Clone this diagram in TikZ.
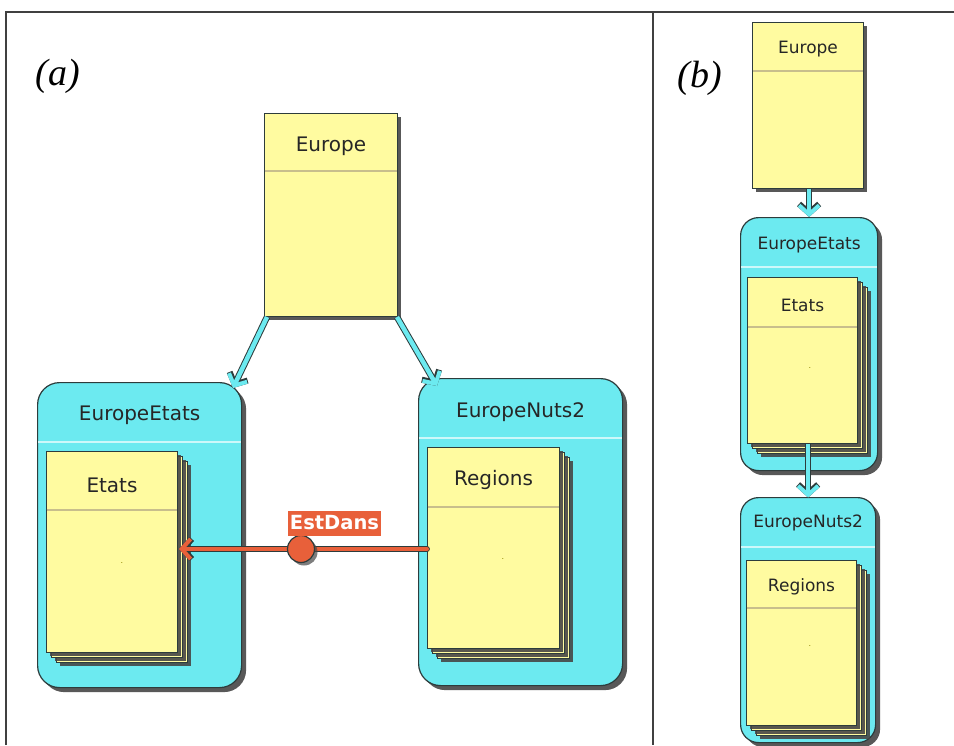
\documentclass[tikz,border=0pt]{standalone}
\usepackage{fontspec}
\setmainfont{DejaVu Sans}
\newfontfamily\serifit{Liberation Serif}
\usetikzlibrary{shadows,arrows.meta}
\definecolor{ylw}{RGB}{255,251,160}
\definecolor{cyn}{RGB}{108,234,240}
\definecolor{org}{RGB}{232,96,58}
\definecolor{outl}{RGB}{45,60,60}
\definecolor{ydivc}{RGB}{200,190,140}
\definecolor{cdivc}{RGB}{205,248,250}
\definecolor{shd}{RGB}{70,70,70}
\tikzset{
  frame/.style={draw=black!75, line width=1.3pt},
  ybox/.style={rectangle, draw=outl, fill=ylw, line width=1pt, anchor=north west, inner sep=0pt,
    drop shadow={shadow xshift=3.5pt, shadow yshift=-3.5pt, fill=shd, opacity=0.9}},
  cbox/.style={rectangle, rounded corners=22pt, draw=outl, fill=cyn, line width=1.2pt, anchor=north west, inner sep=0pt,
    drop shadow={shadow xshift=4.5pt, shadow yshift=-4.5pt, fill=shd, opacity=0.9}},
  ydiv/.style={draw=ydivc, line width=1.2pt},
  cdiv/.style={draw=cdivc, line width=1.8pt},
  ttlA/.style={font=\fontsize{20}{24}\selectfont, text=black!85},
  ttlB/.style={font=\fontsize{17}{20}\selectfont, text=black!85},
  dotlbl/.style={font=\fontsize{8}{9}\selectfont, text=olive, inner sep=0pt},
  panel/.style={font=\serifit\itshape\fontsize{38}{42}\selectfont},
  inh/.style={draw=cyn, line width=4.5pt, -{Straight Barb[length=9pt,width=20pt,line width=4pt]},
    preaction={draw=outl, line width=6.5pt, -{Straight Barb[length=9pt,width=20pt,line width=6pt]}}},
  rel/.style={draw=org, line width=4pt, line cap=round, -{Straight Barb[length=9pt,width=20pt,line width=4pt]},
    preaction={draw=outl, line width=5.8pt, line cap=round, -{Straight Barb[length=9pt,width=20pt,line width=5.8pt]}}},
}
% stack of three yellow class boxes: name, x, y, w, h
\newcommand\ystackbox[5]{%
  \node[ybox, minimum width=#4pt, minimum height=#5pt] at (#2+10,#3+10) {};
  \node[ybox, minimum width=#4pt, minimum height=#5pt] at (#2+5,#3+5) {};
  \node[ybox, minimum width=#4pt, minimum height=#5pt] (#1) at (#2,#3) {};
}
\begin{document}
\begin{tikzpicture}[x=1pt,y=-1pt]
\useasboundingbox (0,0) rectangle (954,745);
\fill[white] (0,0) rectangle (954,745);
% frame
\draw[frame] (6,745) -- (6,12) -- (954,12);
\draw[frame] (653,12) -- (653,745);
\node[panel] (pa) at (58,76) {(a)};
\node[panel] (pb) at (700,78) {(b)};

% ===== (a) =====
\node[ybox, minimum width=133pt, minimum height=203pt] (europeA) at (264,113) {};
\draw[ydiv] ([yshift=-58pt,xshift=0.6pt]europeA.north west) -- ([yshift=-58pt,xshift=-0.6pt]europeA.north east);
\node[ttlA] (europeAt) at ([yshift=-33pt]europeA.north) {Europe};

\node[cbox, minimum width=204pt, minimum height=305pt] (eetatsA) at (37,382) {};
\draw[cdiv] ([yshift=-60pt,xshift=0.8pt]eetatsA.north west) -- ([yshift=-60pt,xshift=-0.8pt]eetatsA.north east);
\node[ttlA] (eetatsAt) at ([yshift=-33pt]eetatsA.north) {EuropeEtats};
\ystackbox{etatsA}{46}{451}{131}{201}
\draw[ydiv] ([yshift=-59pt,xshift=0.6pt]etatsA.north west) -- ([yshift=-59pt,xshift=-0.6pt]etatsA.north east);
\node[ttlA] (etatsAt) at ([yshift=-34pt]etatsA.north) {Etats};
\node[dotlbl, anchor=base] (etatsAd) at (122,563) {.};

\node[cbox, minimum width=204pt, minimum height=307pt] (enutsA) at (418,378) {};
\draw[cdiv] ([yshift=-60pt,xshift=0.8pt]enutsA.north west) -- ([yshift=-60pt,xshift=-0.8pt]enutsA.north east);
\node[ttlA] (enutsAt) at ([yshift=-34pt]enutsA.north) {EuropeNuts2};
\ystackbox{regionsA}{427}{447}{132}{201}
\draw[ydiv] ([yshift=-60pt,xshift=0.6pt]regionsA.north west) -- ([yshift=-60pt,xshift=-0.6pt]regionsA.north east);
\node[ttlA] (regionsAt) at ([yshift=-33pt]regionsA.north) {Regions};
\node[dotlbl, anchor=base] (regionsAd) at (503,559) {.};

% inheritance arrows (a)
\coordinate (tipL) at (233,388);
\coordinate (tipR) at (437,386);
\draw[inh] ([xshift=3pt]europeA.south west) -- (tipL);
\draw[inh] ([xshift=-1pt]europeA.south east) -- (tipR);

% EstDans relation
\coordinate (relc) at (301,549);
\draw[rel] (regionsA.west |- relc) -- ([xshift=1pt]etatsA.east |- relc);
\node[circle, fill=org, draw=outl, line width=1.2pt, minimum size=27pt, inner sep=0pt,
  drop shadow={shadow xshift=3pt, shadow yshift=-3pt, fill=shd, opacity=0.7}] (estc) at (relc) {};
\node[fill=org, text=white, font=\bfseries\fontsize{19.5}{22}\selectfont, inner sep=1.5pt,
  minimum height=25pt] (estl) at (334.5,523) {EstDans};

% ===== (b) =====
\node[ybox, minimum width=111pt, minimum height=166pt] (europeB) at (752,22) {};
\draw[ydiv] ([yshift=-49pt,xshift=0.6pt]europeB.north west) -- ([yshift=-49pt,xshift=-0.6pt]europeB.north east);
\node[ttlB] (europeBt) at ([yshift=-27pt]europeB.north) {Europe};

\node[cbox, rounded corners=18pt, minimum width=137pt, minimum height=253pt] (eetatsB) at (740,217) {};
\draw[cdiv] ([yshift=-50pt,xshift=0.8pt]eetatsB.north west) -- ([yshift=-50pt,xshift=-0.8pt]eetatsB.north east);
\node[ttlB] (eetatsBt) at ([yshift=-28pt]eetatsB.north) {EuropeEtats};
\ystackbox{etatsB}{747}{277}{110}{166}
\draw[ydiv] ([yshift=-50pt,xshift=0.6pt]etatsB.north west) -- ([yshift=-50pt,xshift=-0.6pt]etatsB.north east);
\node[ttlB] (etatsBt) at ([yshift=-28pt]etatsB.north) {Etats};
\node[dotlbl, anchor=base] (etatsBd) at (810,368) {.};

\node[cbox, rounded corners=18pt, minimum width=135pt, minimum height=245pt] (enutsB) at (740,497) {};
\draw[cdiv] ([yshift=-50pt,xshift=0.8pt]enutsB.north west) -- ([yshift=-50pt,xshift=-0.8pt]enutsB.north east);
\node[ttlB] (enutsBt) at ([yshift=-26pt]enutsB.north) {EuropeNuts2};
\ystackbox{regionsB}{746}{560}{110}{165}
\draw[ydiv] ([yshift=-48pt,xshift=0.6pt]regionsB.north west) -- ([yshift=-48pt,xshift=-0.6pt]regionsB.north east);
\node[ttlB] (regionsBt) at ([yshift=-27pt]regionsB.north) {Regions};
\node[dotlbl, anchor=base] (regionsBd) at (810,646) {.};

% inheritance arrows (b)
\draw[inh] (europeB.south -| eetatsB.north) -- (eetatsB.north);
\draw[inh] (etatsB.south -| enutsB.north) -- ([yshift=-0.5pt]enutsB.north);
\end{tikzpicture}
\end{document}
